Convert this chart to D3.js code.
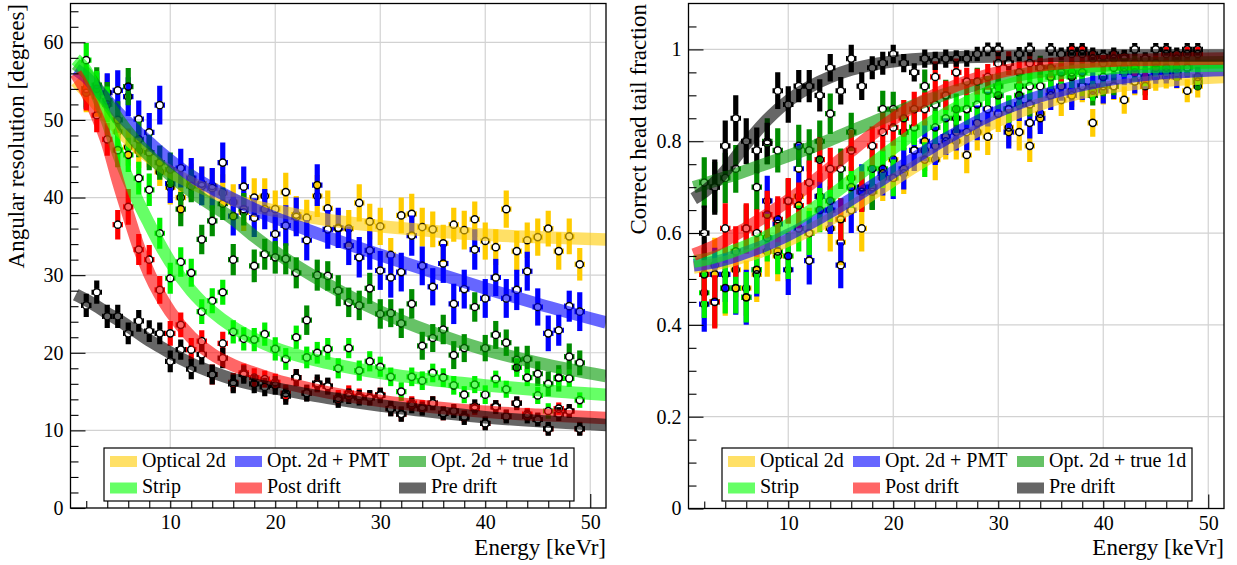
<!DOCTYPE html>
<html><head><meta charset="utf-8">
<script src="https://cdn.jsdelivr.net/npm/d3@7"></script>
<style>
body{margin:0;background:#fff}
svg{display:block}
text{font-family:"Liberation Serif","Times New Roman",serif;fill:#000}
</style>
</head><body>
<svg id="chart" width="1237" height="565"></svg>
<script>
// ---------------- DATA ----------------
const seriesNames = ["Optical 2d", "Opt. 2d + PMT", "Opt. 2d + true 1d", "Strip", "Post drift", "Pre drift"];
const energy = [2,3,4,5,6,7,8,9,10,11,12,13,14,15,16,17,18,19,20,21,22,23,24,25,
                26,27,28,29,30,31,32,33,34,35,36,37,38,39,40,41,42,43,44,45,46,47,48,49];
const xTickLabels = [10,20,30,40,50];
const angYTicks = [0,10,20,30,40,50,60];
const htYTicks = [0,0.2,0.4,0.6,0.8,1];

// Left panel: angular resolution [degrees]
const angOptical2d = [53.5,53.0,53.5,48.5,46.5,46.0,45.8,43.3, 41.3,40.0,42.0,41.8,41.5,40.6,39.4,38.1,
  40.0,40.2,38.5,40.7,37.8,37.4,40.2,38.6, 36.0,36.0,39.3,36.9,36.3,32.6,37.7,37.9,
  36.2,35.9,34.1,36.5,35.8,37.2,34.4,33.6, 38.5,33.1,34.5,34.9,36.0,33.1,35.0,31.4];
const angPmt = [54.0,53.5,53.5,53.8,53.0,50.1,48.4,51.9, 41.8,43.8,42.5,41.5,41.2,44.5,37.6,41.4,
  37.4,38.5,35.3,36.4,37.5,34.5,41.6,35.9, 36.1,33.8,32.3,33.2,30.6,29.7,30.4,35.1,
  31.2,28.5,31.5,26.3,28.2,33.3,27.0,29.7, 27.0,28.1,30.5,25.9,22.5,22.9,26.0,25.3];
const angTrue1d = [54.0,54.5,52.5,50.0,54.3,47.5,45.8,44.5, 43.6,38.5,41.5,34.6,37.0,39.2,32.0,38.5,
  31.2,32.7,32.3,32.1,30.3,24.2,30.0,29.9, 28.0,26.5,26.1,28.3,25.0,25.1,23.8,26.3,
  20.9,21.9,23.0,19.7,20.6,25.9,20.6,22.3, 21.3,19.1,19.2,17.3,16.0,16.7,19.5,18.7];
const angStrip = [57.7,54.0,52.0,46.1,45.5,42.5,41.0,35.4, 29.6,31.7,30.3,25.3,26.7,27.8,22.7,21.8,
  21.7,22.4,20.5,19.2,22.0,19.4,20.0,20.5, 18.0,20.6,17.7,18.9,18.2,16.9,15.0,16.9,
  16.4,17.4,16.8,15.8,14.6,15.9,14.6,16.6, 15.3,18.1,16.8,14.5,12.5,16.8,16.7,13.9];
const angPostDrift = [53.5,50.6,47.5,36.5,38.8,33.3,32.0,28.1, 22.5,23.6,20.4,21.5,17.2,21.2,16.2,17.4,
  16.8,16.6,16.2,14.8,16.8,14.8,15.9,15.7, 14.2,14.8,14.4,14.2,14.6,12.8,12.1,13.5,
  13.0,13.5,12.2,12.5,11.8,12.8,10.9,13.1, 11.8,13.5,12.1,11.4,10.2,12.8,12.5,10.2];
const angPreDrift = [26.1,27.8,24.7,24.7,22.5,24.1,22.8,22.5, 18.9,20.4,17.9,19.8,17.2,19.3,16.0,17.2,
  16.0,15.6,15.8,14.4,16.8,14.8,16.1,15.7, 13.9,14.4,14.2,14.2,14.5,12.8,12.1,13.2,
  12.8,13.5,12.2,12.5,11.6,13.1,10.9,13.0, 11.8,13.5,11.8,11.4,10.2,12.1,12.5,10.2];

const angOptical2dErr = [2.5,2.6,2.4,2.5,2.4,2.2,1.9,1.8, 2.2,2.3,2.4,2.2,2.3,2.4,2.3,2.4,
  2.5,2.3,2.4,2.5,2.4,2.3,2.7,2.3, 2.3,2.4,2.4,2.3,2.4,2.2,2.3,2.6,
  2.5,2.3,2.4,2.2,2.5,2.3,2.4,2.3, 2.4,2.6,2.3,2.4,2.3,2.4,2.3,2.1];
const angPmtErr = [2.6,2.6,2.5,2.6,2.5,2.4,2.5,2.5, 2.5,2.5,2.6,2.5,2.6,2.6,2.5,2.6,
  2.5,2.6,2.5,2.6,2.5,2.6,2.7,2.5, 2.6,2.5,2.6,2.5,2.5,2.6,2.5,2.6,
  2.5,2.4,2.5,2.6,2.5,2.6,2.5,2.4, 2.5,2.6,2.5,2.4,2.3,2.0,2.0,2.5];
const angTrue1dErr = [2.4,2.3,2.4,2.4,2.4,2.3,2.3,2.2, 2.2,2.2,2.1,1.9,2.0,2.1,2.0,2.1,
  2.1,2.0,2.1,2.0,2.0,1.9,2.0,1.9, 2.0,1.9,1.9,2.0,1.9,1.8,1.9,1.9,
  1.8,1.8,1.9,1.8,1.8,1.9,1.7,1.8, 1.7,1.7,1.7,1.6,1.6,1.7,1.7,1.6];
const angStripErr = [2.2,2.3,2.3,2.2,2.2,2.1,2.1,2.0, 2.0,1.9,1.8,1.6,1.6,1.6,1.5,1.5,
  1.5,1.5,1.5,1.4,1.5,1.4,1.4,1.4, 1.3,1.3,1.3,1.3,1.3,1.2,1.2,1.2,
  1.2,1.2,1.2,1.2,1.1,1.1,1.2,1.1, 1.1,1.2,1.1,1.1,1.0,1.1,1.1,1.0];
const angPostDriftErr = [2.3,2.2,2.1,1.9,2.3,2.0,1.9,1.8, 1.6,1.6,1.5,1.4,1.3,1.5,1.2,1.2,
  1.2,1.1,1.1,1.1,1.1,1.0,1.0,1.0, 1.0,1.0,1.0,0.9,0.9,0.9,0.9,0.9,
  0.9,0.9,0.9,0.8,0.8,0.8,0.8,0.8, 0.8,0.8,0.8,0.8,0.8,0.8,0.8,0.8];
const angPreDriftErr = [1.5,1.5,1.5,1.5,1.4,1.4,1.4,1.4, 1.4,1.3,1.3,1.3,1.3,1.3,1.2,1.2,
  1.2,1.2,1.2,1.1,1.1,1.1,1.1,1.1, 1.0,1.0,1.0,1.0,1.0,1.0,1.0,1.0,
  0.9,0.9,0.9,0.9,0.9,0.9,0.9,0.9, 0.9,0.9,0.9,0.9,0.9,0.9,0.9,0.9];

// Right panel: correct head-tail fraction
const htOptical2d = [.51,.53,.48,.52,.48,.51,.56,.55, .55,.68,.60,.68,.61,.58,.72,.61,
  .70,.72,.76,.73,.78,.78,.76,.80, .80,.77,.82,.81,.86,.83,.82,.79,
  .86,.91,.89,.91,.92,.84,.91,.92, .89,.93,.93,.94,.94,.94,.91,.92];
const htPmt = [.445,.51,.51,.48,.46,.52,.67,.62, .52,.74,.54,.68,.65,.53,.65,.70,
  .70,.73,.72,.74,.78,.80,.79,.81, .82,.82,.84,.87,.90,.82,.88,.84,
  .85,.90,.92,.90,.92,.92,.91,.92, .95,.93,.94,.95,.95,.94,.96,.94];
const htTrue1d = [.71,.70,.72,.74,.61,.70,.80,.78, .67,.79,.78,.80,.86,.74,.82,.69,
  .69,.87,.87,.82,.83,.92,.88,.90, .85,.87,.93,.91,.92,.87,.92,.88,
  .96,.94,.95,.95,.92,.90,.92,.92, .96,.97,.92,.96,.96,.95,.96,.93];
const htStrip = [.47,.45,.48,.48,.46,.52,.59,.56, .55,.61,.60,.65,.67,.63,.70,.69,
  .74,.74,.72,.82,.83,.76,.83,.85, .87,.87,.88,.91,.90,.87,.90,.92,
  .92,.94,.95,.94,.95,.91,.94,.96, .96,.95,.94,.96,.96,.96,.96,.94];
const htPostDrift = [.51,.45,.61,.56,.61,.60,.64,.63, .67,.66,.71,.76,.74,.63,.78,.69,
  .79,.82,.83,.85,.87,.87,.94,.90, .95,.93,.93,.94,.97,.97,.95,.97,
  .96,.96,.95,.99,.99,.98,.97,.98, .98,.96,.92,.97,.99,.98,.99,.99];
const htPreDrift = [.60,.70,.79,.85,.80,.78,.795,.91, .88,.92,.92,.90,.96,.91,.98,.92,
  .96,.97,.99,.97,.95,.98,.975,.98, .98,.98,.99,1.0,1.0,.97,.99,1.0,
  .96,1.0,.99,1.0,1.0,.99,.985,.99, .985,1.0,.98,1.0,1.0,.99,1.0,1.0];

const htOptical2dErr = [.060,.060,.060,.060,.060,.060,.055,.055, .055,.055,.055,.050,.050,.050,.050,.050,
  .050,.050,.045,.045,.045,.045,.045,.040, .040,.040,.040,.040,.040,.040,.040,.035,
  .035,.035,.035,.035,.035,.030,.030,.030, .030,.030,.030,.030,.025,.025,.025,.025];
const htPmtErr = [.060,.058,.060,.058,.060,.058,.055,.055, .055,.055,.052,.050,.052,.050,.050,.050,
  .048,.048,.046,.045,.045,.044,.042,.040, .040,.040,.038,.038,.036,.036,.036,.034,
  .034,.032,.032,.032,.030,.030,.028,.028, .028,.026,.026,.025,.024,.024,.022,.022];
const htTrue1dErr = [.055,.055,.055,.052,.052,.050,.050,.048, .048,.046,.046,.045,.044,.044,.042,.042,
  .040,.040,.038,.038,.036,.036,.034,.034, .032,.032,.030,.030,.030,.028,.028,.026,
  .026,.025,.024,.024,.022,.022,.022,.020, .020,.020,.020,.018,.018,.018,.018,.018];
const htStripErr = [.055,.055,.055,.055,.055,.052,.052,.050, .050,.050,.048,.048,.046,.046,.045,.044,
  .042,.042,.040,.040,.038,.038,.036,.035, .034,.034,.032,.032,.030,.030,.028,.028,
  .026,.026,.025,.024,.024,.022,.022,.022, .020,.020,.020,.020,.018,.018,.018,.018];
const htPostDriftErr = [.058,.058,.055,.055,.055,.052,.052,.050, .050,.050,.048,.048,.046,.046,.045,.044,
  .042,.042,.040,.040,.038,.036,.034,.032, .030,.030,.028,.028,.026,.026,.024,.024,
  .022,.022,.020,.020,.020,.018,.018,.018, .018,.018,.030,.016,.016,.016,.016,.016];
const htPreDriftErr = [.060,.060,.055,.050,.050,.050,.045,.040, .040,.035,.035,.035,.030,.030,.030,.030,
  .025,.025,.020,.020,.020,.020,.020,.020, .018,.018,.016,.015,.015,.015,.015,.015,
  .015,.014,.014,.014,.014,.014,.014,.014, .014,.014,.014,.014,.014,.014,.014,.014];

// Fit curves (at these energies)
const fitEnergy = [1,2,3,4,5,6,7,8,9,10,12,14,16,18,20,25,30,35,40,45,51.5];
const angFitOptical2d = [55.0,53.6,52.0,50.4,48.9,47.5,46.3,45.2,44.2,43.3,41.9,40.7,39.7,38.9,38.3,37.1,36.3,35.7,35.2,34.9,34.6];
const angFitPmt = [56.5,55.5,54.0,52.5,51.0,49.6,48.3,47.1,45.9,44.8,42.8,41.2,39.8,38.5,37.4,34.9,32.6,30.4,28.3,26.3,23.9];
const angFitTrue1d = [57.2,56.0,54.2,52.2,50.2,48.4,46.8,45.4,44.1,42.9,40.8,39.0,37.2,35.0,33.0,28.8,25.3,22.6,20.4,18.7,17.0];
const angFitStrip = [57.8,56.3,53.3,49.8,45.8,42.3,39.3,36.6,34.0,31.7,28.0,25.3,23.3,21.8,20.6,18.7,17.4,16.5,15.8,15.2,14.6];
const angFitPostDrift = [56.0,53.6,50.6,47.0,42.2,37.8,33.6,30.2,27.5,25.3,22.0,19.8,18.4,17.4,16.5,14.9,13.8,13.0,12.4,12.0,11.6];
const angFitPreDrift = [27.5,26.8,26.0,25.1,24.3,23.4,22.5,21.6,20.8,20.0,18.6,17.5,16.6,15.9,15.4,14.2,13.2,12.4,11.7,11.2,10.7];

const htFitOptical2d = [.525,.528,.532,.537,.543,.550,.557,.565,.574,.584,.606,.630,.656,.685,.715,.785,.845,.888,.915,.930,.940];
const htFitPmt = [.530,.533,.537,.543,.550,.558,.566,.575,.585,.596,.620,.646,.674,.703,.733,.805,.865,.905,.932,.947,.955];
const htFitTrue1d = [.700,.707,.714,.721,.728,.736,.744,.752,.760,.768,.785,.803,.822,.841,.860,.903,.935,.955,.965,.970,.972];
const htFitStrip = [.538,.542,.548,.555,.563,.572,.582,.593,.605,.618,.647,.680,.715,.750,.785,.860,.915,.945,.958,.963,.965];
const htFitPostDrift = [.553,.562,.572,.584,.597,.611,.625,.640,.655,.671,.705,.742,.779,.815,.848,.912,.950,.968,.975,.978,.980];
const htFitPreDrift = [.675,.690,.710,.735,.765,.795,.822,.847,.869,.888,.918,.940,.956,.967,.974,.982,.985,.986,.987,.987,.987];

// ---------------- STYLE ----------------
const barColors = ["#ffcc00", "#0000ff", "#008c00", "#00f000", "#ff0000", "#000000"];
const bandColors = ["#ffcc00", "#0000ff", "#009900", "#00ff00", "#ff0000", "#000000"];
const FONT = '"Liberation Serif","Times New Roman",serif';

const svg = d3.select("#chart");

function drawPanel(p) {
  const x = d3.scaleLinear().domain([0.5, 51.5]).range([p.x0, p.x1]);
  const y = d3.scaleLinear().domain([0, p.yMax]).range([p.y1, p.y0]);
  const g = svg.append("g");
  const clipId = "clip" + p.id;
  svg.append("clipPath").attr("id", clipId).append("rect")
    .attr("x", p.x0).attr("y", p.y0).attr("width", p.x1 - p.x0).attr("height", p.y1 - p.y0);

  // grid
  g.append("g").selectAll("line").data(xTickLabels).join("line")
    .attr("x1", d => x(d)).attr("x2", d => x(d)).attr("y1", p.y0).attr("y2", p.y1)
    .attr("stroke", "#d2d2d2").attr("stroke-width", 1.2);
  g.append("g").selectAll("line").data(p.yMajor.filter(v => v > 0)).join("line")
    .attr("x1", p.x0).attr("x2", p.x1).attr("y1", d => y(d)).attr("y2", d => y(d))
    .attr("stroke", "#d2d2d2").attr("stroke-width", 1.2);

  const plot = g.append("g").attr("clip-path", `url(#${clipId})`);
  const r = 3.6, bw = 5.2;

  // points with error bars
  p.series.forEach((s, i) => {
    const sg = plot.append("g");
    const pts = energy.map((e, j) => ({e, v: s.vals[j], er: s.errs[j]}));
    const segs = [];
    pts.forEach(d => {
      const cx = x(d.e), cy = y(d.v);
      const top = y(d.v + d.er), bot = y(d.v - d.er);
      if (cy - r > top) segs.push([cx, top, cx, cy - r]);
      if (bot > cy + r) segs.push([cx, cy + r, cx, bot]);
      segs.push([x(d.e - 0.5), cy, cx - r, cy]);
      segs.push([cx + r, cy, x(d.e + 0.5), cy]);
    });
    sg.selectAll("line").data(segs).join("line")
      .attr("x1", d => d[0]).attr("y1", d => d[1]).attr("x2", d => d[2]).attr("y2", d => d[3])
      .attr("stroke", barColors[i]).attr("stroke-width", bw).attr("stroke-linecap", "butt");
    sg.selectAll("circle").data(pts).join("circle")
      .attr("cx", d => x(d.e)).attr("cy", d => y(d.v)).attr("r", r)
      .attr("fill", "none").attr("stroke", "#000").attr("stroke-width", 1.5);
  });

  // fit bands
  const line = d3.line().x(d => x(d[0])).y(d => y(d[1])).curve(d3.curveMonotoneX);
  p.series.forEach((s, i) => {
    plot.append("path")
      .attr("d", line(fitEnergy.map((e, k) => [e, s.fit[k]])))
      .attr("fill", "none").attr("stroke", bandColors[i]).attr("stroke-opacity", 0.6)
      .attr("stroke-width", 12.5).attr("stroke-linecap", "butt");
  });

  // frame
  g.append("rect").attr("x", p.x0).attr("y", p.y0).attr("width", p.x1 - p.x0).attr("height", p.y1 - p.y0)
    .attr("fill", "none").attr("stroke", "#000").attr("stroke-width", 1.3);

  // axes
  const styleAxis = a => {
    a.select(".domain").remove();
    a.attr("font-size", null).attr("font-family", null);
    a.selectAll("text").attr("font-size", 20).attr("font-family", FONT).attr("fill", "#000");
    a.selectAll("line").attr("stroke", "#000").attr("stroke-width", 1.1);
  };
  g.append("g").attr("transform", `translate(${p.x0},0)`)
    .call(d3.axisLeft(y).tickValues(p.yMinor).tickSize(-8).tickFormat(""))
    .call(styleAxis);
  g.append("g").attr("transform", `translate(${p.x0},0)`)
    .call(d3.axisLeft(y).tickValues(p.yMajor).tickSize(-15).tickPadding(7).tickFormat(p.yFmt))
    .call(styleAxis);
  const xMinor = d3.range(2, 52, 2).filter(v => v % 10 !== 0);
  g.append("g").attr("transform", `translate(0,${p.y1})`)
    .call(d3.axisBottom(x).tickValues(xMinor).tickSize(-7).tickFormat(""))
    .call(styleAxis);
  g.append("g").attr("transform", `translate(0,${p.y1})`)
    .call(d3.axisBottom(x).tickValues(xTickLabels).tickSize(-14).tickPadding(7).tickFormat(d3.format("d")))
    .call(styleAxis);

  // titles
  g.append("text").attr("x", p.x1).attr("y", 555).attr("text-anchor", "end")
    .attr("font-size", 23).attr("font-family", FONT).text("Energy [keVr]");
  g.append("text").attr("transform", `translate(${p.yTitleX},4) rotate(-90)`)
    .attr("text-anchor", "end").attr("font-size", 23).attr("font-family", FONT).text(p.yTitle);

  // legend
  const lx = p.x0 + 33.5, ly = 448;
  const lg = g.append("g");
  lg.append("rect").attr("x", lx).attr("y", ly).attr("width", 470).attr("height", 53)
    .attr("fill", "#fff").attr("stroke", "#000").attr("stroke-width", 1.2);
  const colX = [6, 131, 295];
  seriesNames.forEach((name, i) => {
    const cx = lx + colX[i % 3];
    const row = Math.floor(i / 3);
    lg.append("rect").attr("x", cx).attr("y", ly + 8 + row * 26.5).attr("width", 27).attr("height", 11)
      .attr("fill", bandColors[i]).attr("fill-opacity", 0.6);
    lg.append("text").attr("x", cx + 32).attr("y", ly + 19 + row * 26)
      .attr("font-size", 20).attr("font-family", FONT).text(name);
  });
}

drawPanel({
  id: "L", x0: 70.5, x1: 606, y0: 3.5, y1: 508, yMax: 65,
  yMajor: angYTicks, yMinor: d3.range(2, 65, 2).filter(v => v % 10 !== 0),
  yFmt: d3.format("d"), yTitle: "Angular resolution [degrees]", yTitleX: 24,
  series: [
    {vals: angOptical2d, errs: angOptical2dErr, fit: angFitOptical2d},
    {vals: angPmt, errs: angPmtErr, fit: angFitPmt},
    {vals: angTrue1d, errs: angTrue1dErr, fit: angFitTrue1d},
    {vals: angStrip, errs: angStripErr, fit: angFitStrip},
    {vals: angPostDrift, errs: angPostDriftErr, fit: angFitPostDrift},
    {vals: angPreDrift, errs: angPreDriftErr, fit: angFitPreDrift}
  ]
});

drawPanel({
  id: "R", x0: 688.5, x1: 1224, y0: 3.5, y1: 508.5, yMax: 1.1,
  yMajor: htYTicks, yMinor: d3.range(1, 22).map(k => k * 0.05).filter(v => Math.abs(v * 5 - Math.round(v * 5)) > 1e-6),
  yFmt: d => d3.format("~g")(d), yTitle: "Correct head tail fraction", yTitleX: 646,
  series: [
    {vals: htOptical2d, errs: htOptical2dErr, fit: htFitOptical2d},
    {vals: htPmt, errs: htPmtErr, fit: htFitPmt},
    {vals: htTrue1d, errs: htTrue1dErr, fit: htFitTrue1d},
    {vals: htStrip, errs: htStripErr, fit: htFitStrip},
    {vals: htPostDrift, errs: htPostDriftErr, fit: htFitPostDrift},
    {vals: htPreDrift, errs: htPreDriftErr, fit: htFitPreDrift}
  ]
});
</script>
</body></html>
